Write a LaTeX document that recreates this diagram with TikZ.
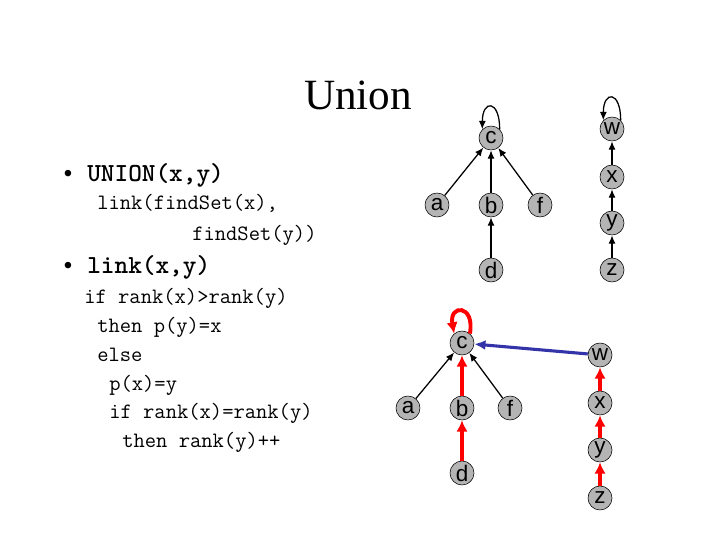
\documentclass[tikz,border=0pt]{standalone}
\usepackage{fontspec}
\setmainfont{Liberation Serif}
\newfontfamily\labelfont{Liberation Sans}
\usetikzlibrary{arrows.meta}
\definecolor{vgray}{RGB}{180,180,180}
\definecolor{linkblue}{RGB}{51,51,170}
\tikzset{
  vert/.style={circle, draw=black, fill=vgray, minimum size=0.6cm, inner sep=0pt, font=\labelfont\fontsize{16}{16}\selectfont},
  parent/.style={black, line width=0.9pt, -{Latex[length=6pt,width=5pt]}},
  path/.style={red, line width=2.8pt, -{Latex[length=8pt,width=8pt]}},
  code/.style={anchor=base west, inner sep=0pt, font=\ttfamily\fontsize{15.6}{16}\selectfont},
  bold/.style={anchor=base west, inner sep=0pt, font=\ttfamily\bfseries\fontsize{18.5}{19}\selectfont\addfontfeatures{FakeBold=1.5}},
  dot/.style={anchor=base, inner sep=0pt, font=\labelfont\fontsize{17}{17}\selectfont}
}
\begin{document}
\begin{tikzpicture}[x=0.025cm,y=0.025cm]
\useasboundingbox (0,0) rectangle (720,540);

\node[anchor=base, inner sep=0pt, font=\fontsize{30.7}{31}\selectfont] (title) at (358,430) {Union};

%code on the left
\node[dot] (dot1) at (68,358) {•};
\node[bold] (union) at (87,358) {UNION(x,y)};
\node[code] (l1) at (97,330) {link(findSet(x),};
\node[code] (l2) at (192,300) {findSet(y))};
\node[dot] (dot2) at (68,267) {•};
\node[bold] (link) at (87,267) {link(x,y)};
\node[code] (l3) at (84,237) {if rank(x)>rank(y)};
\node[code] (l4) at (97,208) {then p(y)=x};
\node[code] (l5) at (97,179) {else};
\node[code] (l6) at (109,150) {p(x)=y};
\node[code] (l7) at (109,122) {if rank(x)=rank(y)};
\node[code] (l8) at (122,93) {then rank(y)++};

%before the link
\node[vert] (c1) at (491,402) {c};
\node[vert] (a1) at (437,335) {a};
\node[vert] (b1) at (491,335) {b};
\node[vert] (f1) at (540,335) {f};
\node[vert] (d1) at (491,270) {d};
\node[vert] (w1) at (612,411) {w};
\node[vert] (x1) at (612,363) {x};
\node[vert] (y1) at (612,317) {y};
\node[vert] (z1) at (612,270) {z};

\draw[parent] (c1.45) .. controls +(90:30) and +(90:30) .. (c1.135);
\draw[parent] (a1) -- (c1);
\draw[parent] (b1) -- (c1);
\draw[parent] (f1) -- (c1);
\draw[parent] (d1) -- (b1);
\draw[parent] (w1.45) .. controls +(90:30) and +(90:30) .. (w1.135);
\draw[parent] (x1) -- (w1);
\draw[parent] (y1) -- (x1);
\draw[parent] (z1) -- (y1);

%after the link
\node[vert] (c2) at (462,197) {c};
\node[vert] (a2) at (408,132) {a};
\node[vert] (b2) at (462,132) {b};
\node[vert] (f2) at (510,132) {f};
\node[vert] (d2) at (462,67) {d};
\node[vert] (w2) at (600,185) {w};
\node[vert] (x2) at (600,137) {x};
\node[vert] (y2) at (600,90) {y};
\node[vert] (z2) at (600,42) {z};

\draw[path] (c2.50) .. controls +(80:30) and +(100:30) .. (c2.130);
\draw[parent] (a2) -- (c2);
\draw[path] (b2) -- (c2);
\draw[parent] (f2) -- (c2);
\draw[path] (d2) -- (b2);
\draw[linkblue, line width=2.2pt, -{Latex[length=8pt,width=7pt]}] (w2) -- (c2);
\draw[path] (x2) -- (w2);
\draw[path] (y2) -- (x2);
\draw[path] (z2) -- (y2);
\end{tikzpicture}
\end{document}
